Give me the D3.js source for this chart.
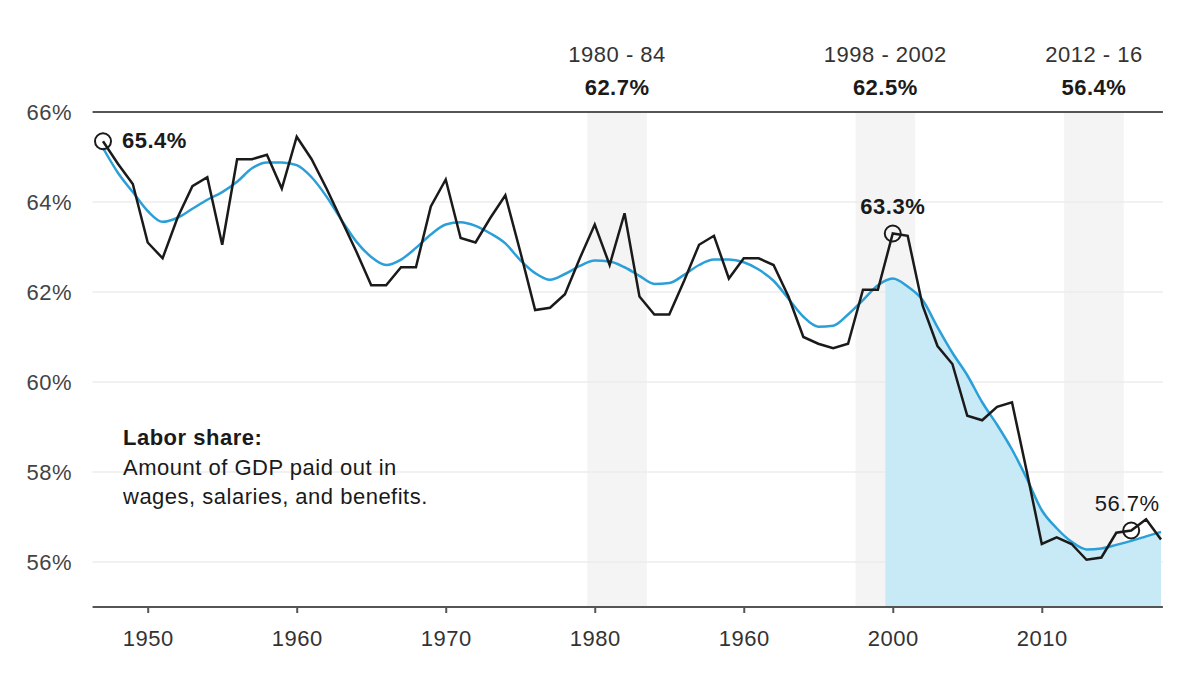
<!DOCTYPE html>
<html>
<head>
<meta charset="utf-8">
<script src="https://cdn.jsdelivr.net/npm/d3@7"></script>
<style>
  body { margin: 0; background: #fff; }
  text { font-family: "Liberation Sans", Arial, sans-serif; letter-spacing: 0.5px; }
</style>
</head>
<body>
<svg id="chart"></svg>
<script>
// Years and labor share (%)
var years = d3.range(1947, 2019);
var laborShare = [
  65.35, 64.85, 64.4, 63.1, 62.75, 63.65, 64.35, 64.55, 63.05, 64.95,
  64.95, 65.05, 64.3, 65.45, 64.95, 64.3, 63.6, 62.9, 62.15, 62.15,
  62.55, 62.55, 63.9, 64.5, 63.2, 63.1, 63.65, 64.15, 62.9, 61.6,
  61.65, 61.95, 62.75, 63.5, 62.6, 63.75, 61.9, 61.5, 61.5, 62.25,
  63.05, 63.25, 62.3, 62.75, 62.75, 62.6, 61.9, 61.0, 60.85, 60.75,
  60.85, 62.05, 62.05, 63.3, 63.25, 61.7, 60.8, 60.4, 59.25, 59.15,
  59.45, 59.55, 58.0, 56.4, 56.55, 56.4, 56.05, 56.1, 56.65, 56.7,
  56.95, 56.5
];
// smoothed trend (blue line)
var trend = [
  65.2, 64.65, 64.22, 63.8, 63.56, 63.65, 63.85, 64.05, 64.22, 64.45,
  64.75, 64.88, 64.88, 64.82, 64.55, 64.12, 63.6, 63.12, 62.78, 62.6,
  62.72, 62.98, 63.28, 63.5, 63.55, 63.47, 63.3, 63.08, 62.71, 62.42,
  62.27, 62.4, 62.58, 62.7, 62.68, 62.55, 62.36, 62.18, 62.2, 62.38,
  62.6, 62.72, 62.72, 62.66, 62.5, 62.25, 61.85, 61.45, 61.23, 61.25,
  61.5, 61.82, 62.15, 62.3, 62.12, 61.82, 61.22, 60.65, 60.15, 59.55,
  59.05, 58.5, 57.85, 57.15, 56.75, 56.45, 56.28, 56.3, 56.38, 56.47,
  56.57, 56.67
];

// highlighted periods
var bandStart = [1980, 1998, 2012];
var bandEnd = [1984, 2002, 2016];
var bandLabel = ["1980 - 84", "1998 - 2002", "2012 - 16"];
var bandValue = ["62.7%", "62.5%", "56.4%"];

// circled points
var markYear = [1947, 2000, 2016];
var markLabel = ["65.4%", "63.3%", "56.7%"];

var xTicks = [1950, 1960, 1970, 1980, 1990, 2000, 2010];
var xTickLabels = ["1950", "1960", "1970", "1980", "1960", "2000", "2010"];
var yTicks = [56, 58, 60, 62, 64, 66];

var width = 1200;
var height = 691;

var svg = d3.select('#chart')
    .attr('width', width)
    .attr('height', height);

var xScale = d3.scaleLinear()
    .domain([1947, 2018])
    .range([103, 1161]);

var yScale = d3.scaleLinear()
    .domain([55, 66])
    .range([607, 112]);

var xLeft = xScale(1946.3);
var xRight = xScale(2018.13);

var data = years.map(function(y, i) {
    return { year: y, value: laborShare[i], trend: trend[i] };
});

// gray bands
svg.selectAll('.band')
    .data(bandStart)
    .enter()
    .append('rect')
    .attr('class', 'band')
    .attr('x', d => xScale(d - 0.5))
    .attr('y', yScale(66))
    .attr('width', (d, i) => xScale(bandEnd[i] - 0.5) - xScale(d - 0.5))
    .attr('height', yScale(55) - yScale(66))
    .attr('fill', '#f4f4f4');

// gridlines
svg.selectAll('.grid')
    .data(yTicks.filter(d => d < 66))
    .enter()
    .append('line')
    .attr('class', 'grid')
    .attr('x1', xLeft)
    .attr('x2', xRight)
    .attr('y1', d => yScale(d))
    .attr('y2', d => yScale(d))
    .attr('stroke', '#ededed')
    .attr('stroke-width', 1.5);

// blue area under trend, from 2000 on
svg.append('clipPath')
    .attr('id', 'fillClip')
    .append('rect')
    .attr('x', xScale(1999.5))
    .attr('y', 0)
    .attr('width', xRight - xScale(1999.5))
    .attr('height', height);

var area = d3.area()
    .x(d => xScale(d.year))
    .y0(yScale(55))
    .y1(d => yScale(d.trend))
    .curve(d3.curveMonotoneX);

svg.append('path')
    .datum(data)
    .attr('clip-path', 'url(#fillClip)')
    .attr('fill', '#c8e9f6')
    .attr('d', area);

// top rule at 66%
svg.append('line')
    .attr('x1', xLeft)
    .attr('x2', xRight)
    .attr('y1', yScale(66))
    .attr('y2', yScale(66))
    .attr('stroke', '#555')
    .attr('stroke-width', 2);

// X-axis
var xAxis = d3.axisBottom(xScale)
    .tickValues(xTicks)
    .tickSize(6)
    .tickSizeOuter(0)
    .tickPadding(17)
    .tickFormat((d, i) => xTickLabels[i]);

var gx = svg.append('g')
    .attr('transform', `translate(0, ${yScale(55)})`)
    .call(xAxis);
gx.select('.domain').remove();
gx.selectAll('.tick line').attr('stroke', '#555').attr('stroke-width', 2);
gx.selectAll('.tick text')
    .attr('fill', '#333')
    .style('font-size', '22px');
gx.append('line')
    .attr('x1', xLeft)
    .attr('x2', xRight)
    .attr('stroke', '#555')
    .attr('stroke-width', 2);

// Y-axis labels
var yAxis = d3.axisLeft(yScale)
    .tickValues(yTicks)
    .tickSize(0)
    .tickPadding(0)
    .tickFormat(d => d + '%');

var gy = svg.append('g')
    .attr('transform', 'translate(72, 0)')
    .call(yAxis);
gy.select('.domain').remove();
gy.selectAll('.tick text')
    .attr('fill', '#444')
    .style('font-size', '22px');

// trend line
var trendLine = d3.line()
    .x(d => xScale(d.year))
    .y(d => yScale(d.trend))
    .curve(d3.curveMonotoneX);

svg.append('path')
    .datum(data)
    .attr('fill', 'none')
    .attr('stroke', '#2a9fd8')
    .attr('stroke-width', 2.5)
    .attr('d', trendLine);

// labor share line
var shareLine = d3.line()
    .x(d => xScale(d.year))
    .y(d => yScale(d.value));

svg.append('path')
    .datum(data)
    .attr('fill', 'none')
    .attr('stroke', '#1a1a1a')
    .attr('stroke-width', 2.5)
    .attr('d', shareLine);

// band labels
svg.selectAll('.band-label')
    .data(bandStart)
    .enter()
    .append('text')
    .attr('class', 'band-label')
    .attr('x', (d, i) => (xScale(d - 0.5) + xScale(bandEnd[i] - 0.5)) / 2)
    .attr('y', 62)
    .attr('text-anchor', 'middle')
    .attr('fill', '#333')
    .style('font-size', '22px')
    .text((d, i) => bandLabel[i]);

svg.selectAll('.band-value')
    .data(bandStart)
    .enter()
    .append('text')
    .attr('class', 'band-value')
    .attr('x', (d, i) => (xScale(d - 0.5) + xScale(bandEnd[i] - 0.5)) / 2)
    .attr('y', 95)
    .attr('text-anchor', 'middle')
    .attr('fill', '#1a1a1a')
    .style('font-size', '22px')
    .style('font-weight', 'bold')
    .text((d, i) => bandValue[i]);

// circled points
var marks = markYear.map(function(y, i) {
    return { year: y, value: laborShare[years.indexOf(y)], label: markLabel[i] };
});

svg.selectAll('.mark')
    .data(marks)
    .enter()
    .append('circle')
    .attr('class', 'mark')
    .attr('cx', d => xScale(d.year))
    .attr('cy', d => yScale(d.value))
    .attr('r', 8)
    .attr('fill', 'none')
    .attr('stroke', '#1a1a1a')
    .attr('stroke-width', 2);

svg.selectAll('.mark-label')
    .data(marks)
    .enter()
    .append('text')
    .attr('class', 'mark-label')
    .attr('x', (d, i) => i === 0 ? xScale(d.year) + 19 : xScale(d.year) - (i === 2 ? 4 : 0))
    .attr('y', (d, i) => yScale(d.value) + (i === 0 ? 7 : -20))
    .attr('text-anchor', (d, i) => i === 0 ? 'start' : 'middle')
    .attr('fill', '#1a1a1a')
    .style('font-size', '22px')
    .style('font-weight', (d, i) => i === 2 ? 'normal' : 'bold')
    .text(d => d.label);

// description
var note = svg.append('text')
    .attr('x', 123)
    .attr('y', 445)
    .attr('fill', '#1a1a1a')
    .style('font-size', '22px');
note.append('tspan')
    .style('font-weight', 'bold')
    .text('Labor share:');
note.append('tspan')
    .attr('x', 123)
    .attr('dy', 30)
    .text('Amount of GDP paid out in');
note.append('tspan')
    .attr('x', 123)
    .attr('dy', 29)
    .text('wages, salaries, and benefits.');
</script>
</body>
</html>
